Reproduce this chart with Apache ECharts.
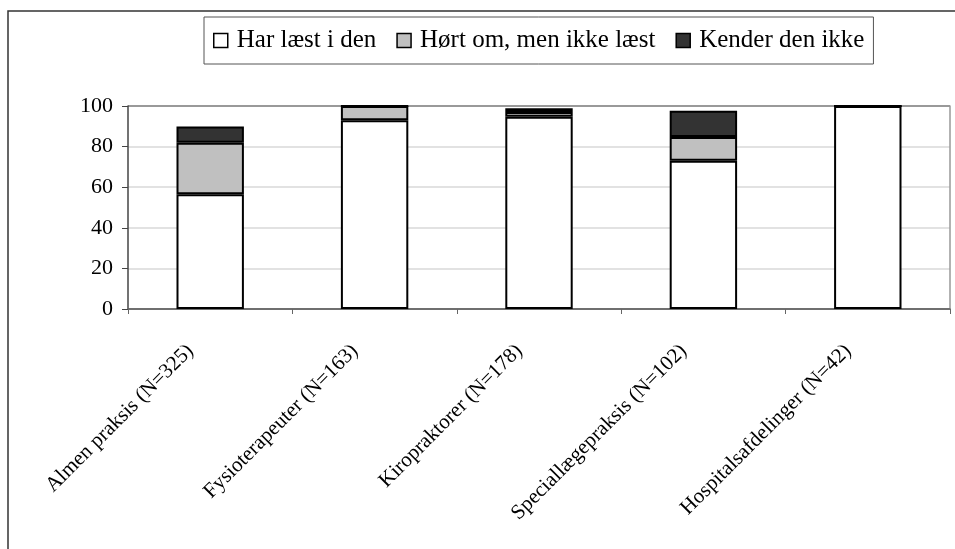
<!DOCTYPE html>
<html>
<head>
<meta charset="utf-8">
<script src="https://cdn.jsdelivr.net/npm/echarts@6/dist/echarts.min.js"></script>
<style>
  html, body { margin: 0; padding: 0; background: #fff; }
  #chart { width: 955px; height: 549px; }
</style>
</head>
<body>
<div id="chart"></div>
<script>
// kategorier og andele (%)
var categories = ['Almen praksis (N=325)', 'Fysioterapeuter (N=163)', 'Kiropraktorer (N=178)', 'Speciallægepraksis (N=102)', 'Hospitalsafdelinger (N=42)'];
var harLaest = [56.5, 93, 94.7, 73, 100];
var hoertOm = [25.4, 7, 2.3, 11.7, 0];
var kenderIkke = [8, 0, 1.9, 13, 0];
var seriesNames = ['Har læst i den', 'Hørt om, men ikke læst', 'Kender den ikke'];

var fontFam = 'Liberation Serif';
var chart = echarts.init(document.getElementById('chart'));

function barSerie(name, data, color) {
    return {
        name: name,
        type: 'bar',
        stack: 'total',
        barWidth: '41%',
        data: data,
        itemStyle: {
            color: color,
            borderColor: '#000',
            borderWidth: 2
        },
        emphasis: { disabled: true }
    };
}

var option = {
    animation: false,
    backgroundColor: '#fff',
    textStyle: { fontFamily: fontFam },
    graphic: [{
        type: 'rect',
        shape: { x: 8, y: 11, width: 1000, height: 600 },
        style: { fill: null, stroke: '#333', lineWidth: 1.5 },
        z: -1
    }],
    legend: {
        data: seriesNames,
        left: 204,
        top: 17,
        padding: [11, 9, 11, 9],
        itemGap: 20,
        itemWidth: 14,
        itemHeight: 14,
        icon: 'rect',
        borderColor: '#555',
        borderWidth: 1,
        formatter: '{t|{name}}',
        textStyle: {
            fontFamily: fontFam,
            fontSize: 25,
            color: '#000',
            rich: { t: { fontFamily: fontFam, fontSize: 25, color: '#000', padding: [0, 0, 0, 4] } }
        },
        itemStyle: { borderColor: '#000', borderWidth: 1.5 }
    },
    grid: { left: 128, right: 5, top: 106, bottom: 240, containLabel: false },
    xAxis: {
        type: 'category',
        data: categories,
        axisLine: { lineStyle: { color: '#666', width: 1.5 } },
        axisTick: { show: true, length: 5, lineStyle: { color: '#666' } },
        axisLabel: {
            rotate: 45,
            interval: 0,
            margin: 19,
            padding: [0, 28, 0, 0],
            fontFamily: fontFam,
            fontSize: 21,
            color: '#000'
        }
    },
    yAxis: [{
        type: 'value',
        min: 0,
        max: 100,
        interval: 20,
        axisLine: { show: true, lineStyle: { color: '#444', width: 1.5 } },
        axisTick: { show: true, length: 6, lineStyle: { color: '#444' } },
        axisLabel: { fontFamily: fontFam, fontSize: 22, color: '#000', margin: 15 },
        splitLine: {
            show: true,
            lineStyle: { color: ['#666', '#d9d9d9', '#d9d9d9', '#d9d9d9', '#d9d9d9', '#777'], width: 1.5 }
        }
    }, {
        type: 'value',
        min: 0,
        max: 100,
        interval: 20,
        position: 'right',
        axisLine: { show: true, lineStyle: { color: '#999', width: 1.5 } },
        axisTick: { show: false },
        axisLabel: { show: false },
        splitLine: { show: false }
    }],
    series: [
        barSerie(seriesNames[0], harLaest, '#ffffff'),
        barSerie(seriesNames[1], hoertOm, '#c0c0c0'),
        barSerie(seriesNames[2], kenderIkke, '#333333')
    ]
};
chart.setOption(option);
</script>
</body>
</html>
